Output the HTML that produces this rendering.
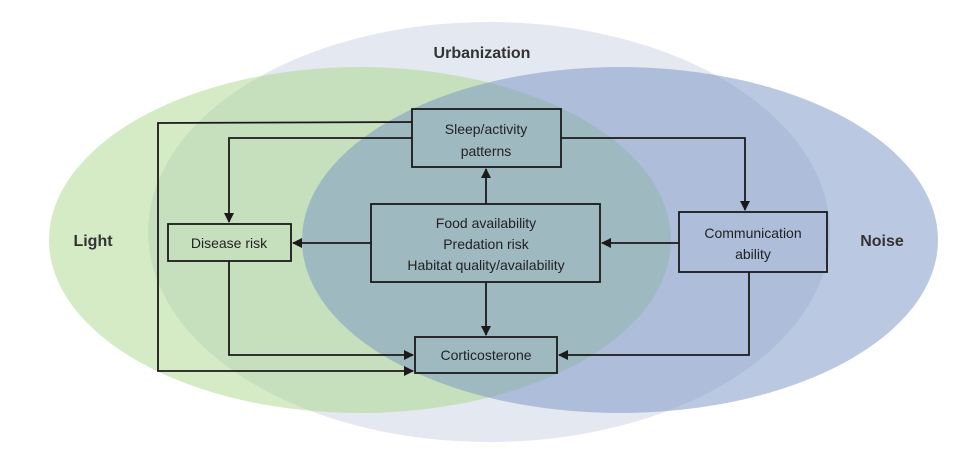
<!DOCTYPE html>
<html><head><style>body{margin:0;background:#fff}svg{display:block}</style></head><body>
<svg width="962" height="455" viewBox="0 0 962 455" xmlns="http://www.w3.org/2000/svg" font-family="Liberation Sans, sans-serif">
<defs><marker id="a" markerWidth="10" markerHeight="10" refX="9" refY="5" orient="auto" markerUnits="userSpaceOnUse"><path d="M0,0 L10,5 L0,10 z" fill="#1a1a1a"/></marker></defs>
<ellipse cx="489" cy="232" rx="341" ry="210" fill="#e3e8f1"/>
<ellipse cx="360" cy="240" rx="311" ry="173" fill="rgb(170,215,140)" fill-opacity="0.5"/>
<ellipse cx="620" cy="240" rx="318" ry="173" fill="rgb(120,145,195)" fill-opacity="0.5"/>
<text x="482" y="58" text-anchor="middle" font-size="16" font-weight="bold" fill="#333">Urbanization</text>
<text x="93" y="246" text-anchor="middle" font-size="16" font-weight="bold" fill="#333">Light</text>
<text x="882" y="246" text-anchor="middle" font-size="16" font-weight="bold" fill="#333">Noise</text>
<g fill="none" stroke="#1a1a1a" stroke-width="1.8">
<rect x="412" y="109" width="149" height="58"/>
<rect x="371" y="204" width="229" height="78"/>
<rect x="168" y="224" width="123" height="37"/>
<rect x="415" y="337" width="142" height="36"/>
<rect x="679" y="212" width="148" height="60"/>
<polyline points="412,122 158,123 158,371 413,371" marker-end="url(#a)"/>
<polyline points="412,138 229,138 229,222" marker-end="url(#a)"/>
<polyline points="229,261 229,355 413,355" marker-end="url(#a)"/>
<line x1="371" y1="243" x2="293" y2="243" marker-end="url(#a)"/>
<line x1="486" y1="204" x2="486" y2="169" marker-end="url(#a)"/>
<line x1="486" y1="282" x2="486" y2="335" marker-end="url(#a)"/>
<polyline points="561,138 745,138 745,210" marker-end="url(#a)"/>
<line x1="679" y1="243" x2="602" y2="243" marker-end="url(#a)"/>
<polyline points="749,272 749,355 559,355" marker-end="url(#a)"/>
</g>
<g font-size="14" fill="#222" text-anchor="middle">
<text x="486" y="134">Sleep/activity</text><text x="486" y="156">patterns</text>
<text x="486" y="228">Food availability</text><text x="486" y="249">Predation risk</text><text x="486" y="270">Habitat quality/availability</text>
<text x="229" y="248">Disease risk</text>
<text x="486" y="360">Corticosterone</text>
<text x="753" y="238">Communication</text><text x="753" y="259">ability</text>
</g>
</svg>
</body></html>
